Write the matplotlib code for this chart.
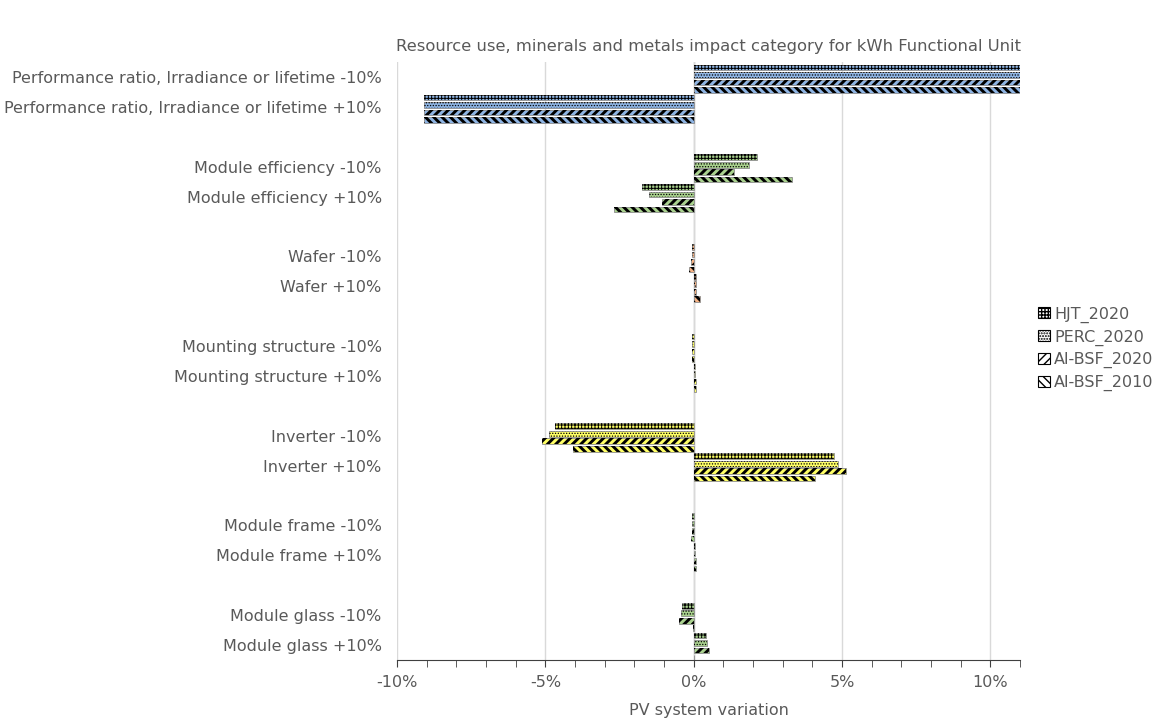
import matplotlib
matplotlib.use("Agg")
import matplotlib.pyplot as plt
import matplotlib.patches as mpatches
from matplotlib.ticker import MultipleLocator, FuncFormatter

# --- dati (variazione in %) ---
fattori = ["Performance ratio, Irradiance or lifetime", "Module efficiency", "Wafer",
           "Mounting structure", "Inverter", "Module frame", "Module glass"]
colori_fattori = ["#8EB4E3", "#A9D18E", "#F4B183", "#FFFF66", "#FFFF66", "#A9D18E", "#A9D18E"]
variazioni = ["-10%", "+10%"]

serie = ["HJT_2020", "PERC_2020", "Al-BSF_2020", "Al-BSF_2010"]
hjt_2020 = [11.11, -9.09, 2.15, -1.73, -0.07, 0.07, -0.05, 0.06, -4.69, 4.72, -0.04, 0.06, -0.39, 0.42]
perc_2020 = [11.11, -9.09, 1.87, -1.51, -0.07, 0.07, -0.05, 0.06, -4.86, 4.88, -0.04, 0.06, -0.42, 0.45]
albsf_2020 = [11.11, -9.09, 1.36, -1.08, -0.08, 0.08, -0.06, 0.07, -5.11, 5.14, -0.05, 0.07, -0.49, 0.52]
albsf_2010 = [11.11, -9.09, 3.31, -2.70, -0.17, 0.20, -0.07, 0.08, -4.08, 4.10, -0.08, 0.08, -0.02, 0.02]
valori = [hjt_2020, perc_2020, albsf_2020, albsf_2010]
tratteggi = ["+++++", "......", "////", "\\\\\\\\"]
spessori_tratteggio = [0.7, 0.6, 2.1, 2.1]

testo = "#595959"

fig = plt.figure(figsize=(11.58, 7.22), dpi=100)
ax = fig.add_axes([397 / 1158, 1 - 660 / 722, (1020 - 397) / 1158, (660 - 62) / 722])

# posizioni: per ogni fattore due righe e una riga vuota
pos_righe = []
etichette = []
colori_righe = []
for f, nome in enumerate(fattori):
    for k, var in enumerate(variazioni):
        pos_righe.append(3 * f + k)
        etichette.append(f"{nome} {var}")
        colori_righe.append(colori_fattori[f])

altezza = 0.19
for j, (nome_s, vals) in enumerate(zip(serie, valori)):
    y = [p - 0.375 + 0.25 * j + 0.06 for p in pos_righe]
    ax.barh(y, vals, height=altezza, color=colori_righe, edgecolor="#8C8C8C",
            linewidth=0.6, zorder=2)
    barre = ax.barh(y, vals, height=altezza, color="none", edgecolor="black",
                    linewidth=0, hatch=tratteggi[j], zorder=3)
    for b in barre:
        if hasattr(b, "set_hatch_linewidth"):
            b.set_hatch_linewidth(spessori_tratteggio[j])

ax.set_xlim(-10, 11)
ax.set_ylim(19.5, -0.5)
ax.set_yticks(pos_righe)
ax.set_yticklabels(etichette)
ax.tick_params(axis="y", length=0, pad=11, labelsize=11.5, labelcolor=testo)

ax.xaxis.set_major_locator(MultipleLocator(5))
ax.xaxis.set_minor_locator(MultipleLocator(1))
ax.xaxis.set_major_formatter(FuncFormatter(lambda v, p: f"{v:.0f}%"))
ax.tick_params(axis="x", which="both", direction="out", length=5, color="#404040",
               labelsize=11.5, labelcolor=testo, pad=6)
ax.grid(axis="x", which="major", color="#D9D9D9", linewidth=1, zorder=0)
ax.axvline(0, color="#BFBFBF", linewidth=1, zorder=1)

for lato in ["top", "right", "left"]:
    ax.spines[lato].set_visible(False)
ax.spines["bottom"].set_color("#404040")

ax.set_xlabel("PV system variation", fontsize=11.5, color=testo, labelpad=9)
ax.set_title("Resource use, minerals and metals impact category for kWh Functional Unit",
             fontsize=11.8, color=testo, pad=8)

maniglie = []
for j, nome_s in enumerate(serie):
    maniglie.append(mpatches.Patch(facecolor="white", edgecolor="black", hatch=tratteggi[j],
                                   linewidth=0.8, label=nome_s))
leg = fig.legend(handles=maniglie, loc="upper left", bbox_to_anchor=(1032 / 1158, 1 - 300 / 722),
                 frameon=False, fontsize=11.5, handlelength=0.7, handleheight=0.7,
                 handletextpad=0.3, labelspacing=0.42, borderaxespad=0)
for t in leg.get_texts():
    t.set_color(testo)

fig.savefig("out.png", dpi=100)
